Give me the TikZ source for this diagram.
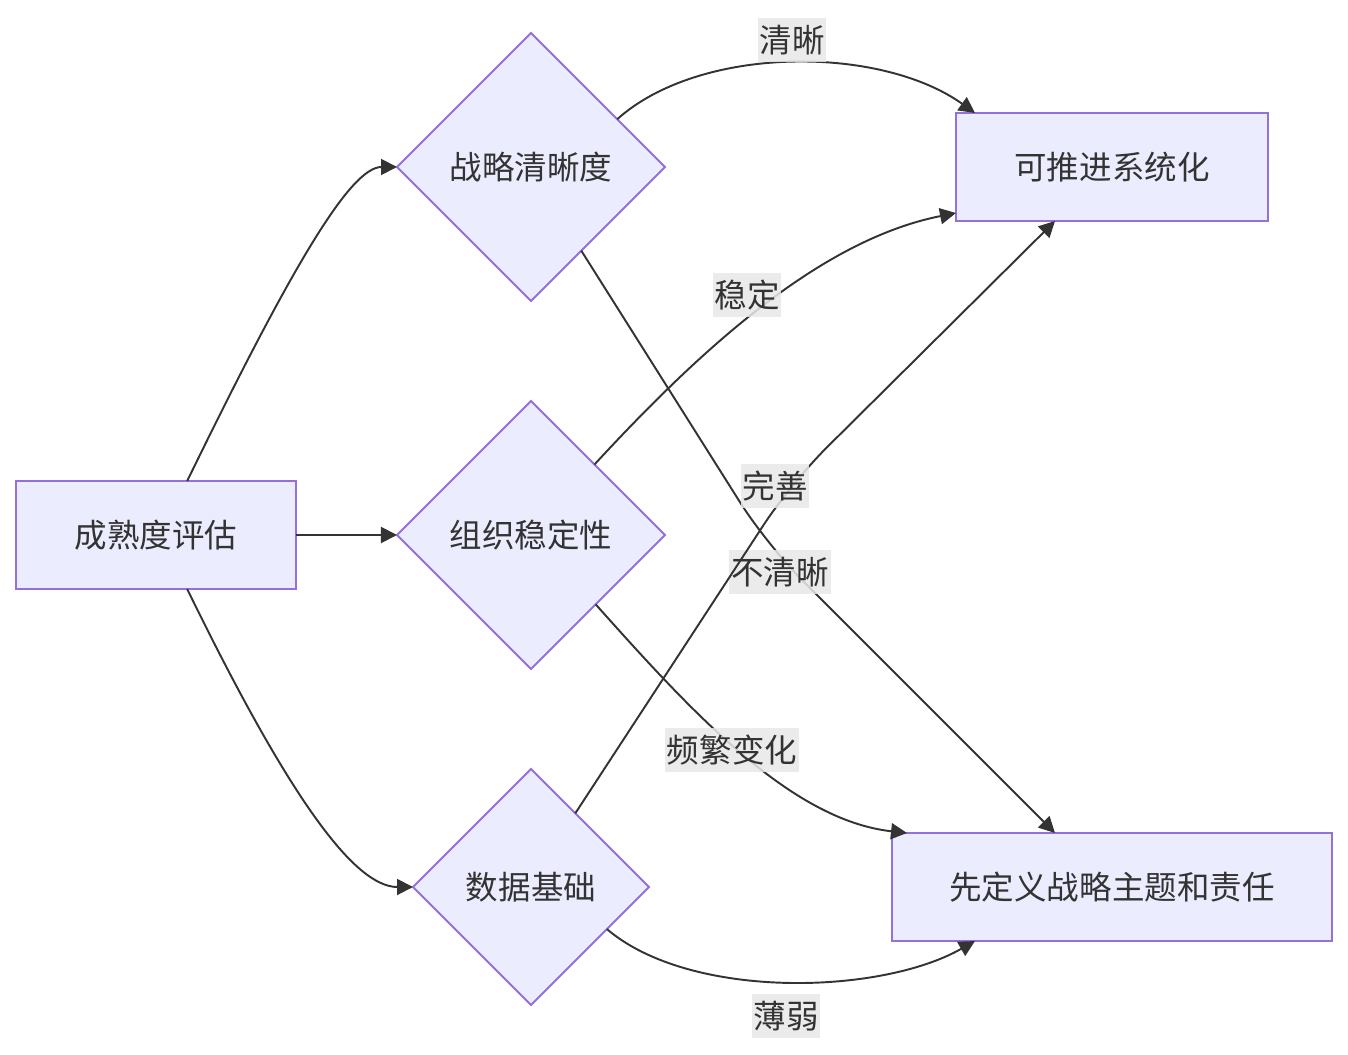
\documentclass[tikz,border=0pt]{standalone}
\usepackage{fontspec}
\setmainfont{Noto Sans CJK SC}
\usepackage{tikz}
\usetikzlibrary{arrows.meta, positioning, shapes.geometric, calc}
\definecolor{mmFill}{HTML}{ECECFF}
\definecolor{mmLine}{HTML}{9370DB}
\definecolor{mmText}{HTML}{333333}
\definecolor{mmLabel}{HTML}{E8E8E8}

\begin{document}
\begin{tikzpicture}[
  x=0.2mm, y=-0.2mm,
  font=\fontsize{18.5}{22}\selectfont, text=mmText,
  box/.style={draw=mmLine, fill=mmFill, line width=1.1pt, outer sep=0pt, minimum height=2.16cm, align=center},
  choice/.style={diamond, draw=mmLine, fill=mmFill, line width=1.1pt, outer sep=0pt, inner sep=0pt, align=center},
  lbl/.style={fill=mmLabel, fill opacity=0.85, text opacity=1, inner xsep=1pt, inner ysep=4pt},
  flow/.style={-{Triangle[length=3.2mm, width=3.2mm]}, line width=1.1pt, draw=mmText},
]
  \useasboundingbox (0,0) rectangle (1348,1055);

  \node[box, minimum width=5.6cm] (eval) at (156,535) {成熟度评估};
  \node[choice, minimum width=5.36cm, minimum height=5.36cm, right=2.02cm of eval] (org) {组织稳定性};
  \node[choice, minimum width=5.36cm, minimum height=5.36cm, above=2cm of org] (strat) {战略清晰度};
  \node[choice, minimum width=4.72cm, minimum height=4.72cm, below=2cm of org] (data) {数据基础};
  \node[box, minimum width=6.24cm] (sys) at (1112,167) {可推进系统化};
  \node[box, minimum width=8.8cm, below=12.24cm of sys] (define) {先定义战略主题和责任};

  \draw[flow] (eval.60) .. controls (290,270) and (350,167) .. (strat.west);
  \draw[flow] (eval) -- (org);
  \draw[flow] (eval.-60) .. controls (290,800) and (355,887) .. (data.west);

  \draw[flow] (strat.29) .. controls (700,45) and (880,45) .. ($(sys.north west)+(19,0)$);
  \node[lbl] (lClear) at (792,40) {清晰};
  \draw[flow, rounded corners=1cm] (strat.-59) -- (767,545) -- ($(define.north)+(-57,0)$);
  \node[lbl] (lUnclear) at (780,572) {不清晰};

  \draw[flow] (org.48) .. controls (700,350) and (820,240) .. ($(sys.south west)+(0,-8)$);
  \node[lbl] (lStable) at (747,295) {稳定};
  \draw[flow] (org.-47) .. controls (690,710) and (790,820) .. ($(define.north west)+(15,0)$);
  \node[lbl] (lChange) at (732,750) {频繁变化};

  \draw[flow, rounded corners=1cm] (data.59) -- (791,483) -- ($(sys.south)+(-57,0)$);
  \node[lbl] (lSound) at (775,486) {完善};
  \draw[flow] (data.-29) .. controls (690,1000) and (880,995) .. ($(define.south west)+(83,0)$);
  \node[lbl] (lWeak) at (786,1016) {薄弱};
\end{tikzpicture}
\end{document}
